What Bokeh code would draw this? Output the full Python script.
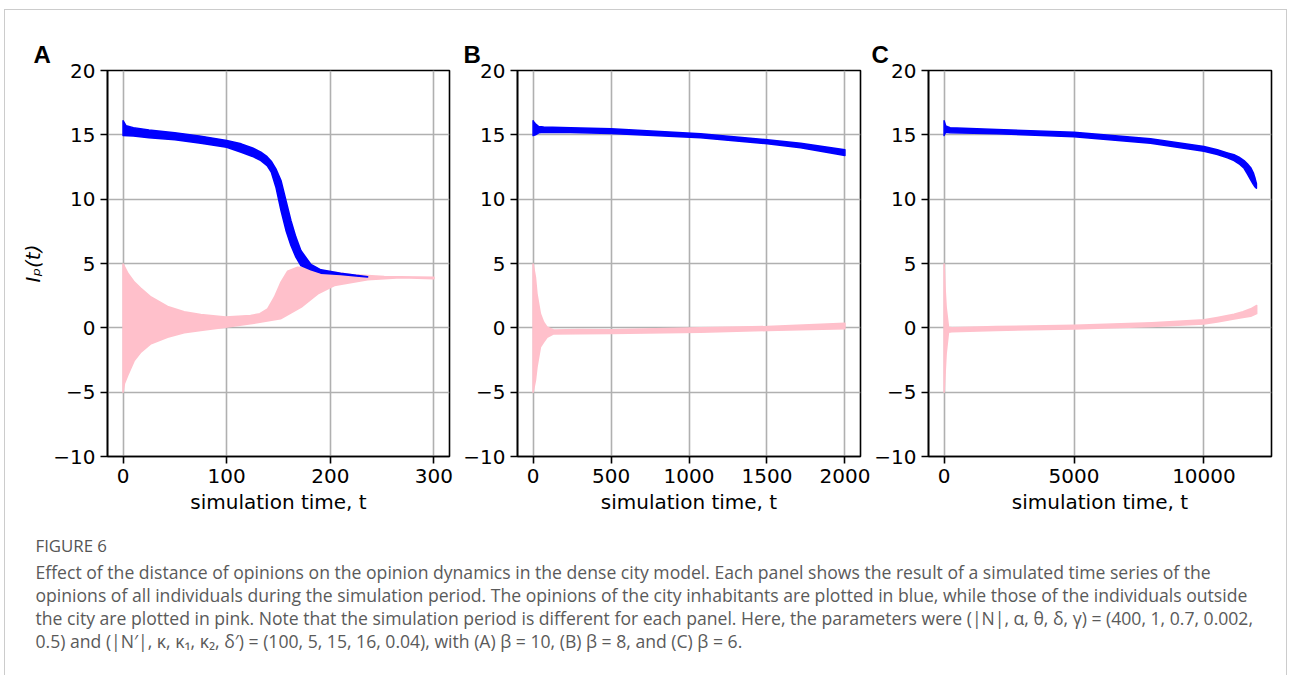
from bokeh.plotting import figure
from bokeh.layouts import row, column
from bokeh.models import Range1d, FixedTicker
from bokeh.core.properties import value
from bokeh.embed import file_html
from bokeh.resources import INLINE

BLUE = "#0000ff"
PINK = "#ffc0cb"
GRID = "#b0b0b0"

# ---------------- data ----------------
y_ticks = [-10, -5, 0, 5, 10, 15, 20]
y_tick_labels = ["\u221210", "\u22125", "0", "5", "10", "15", "20"]

# Panel A (beta = 10)
a_x_ticks = [0, 100, 200, 300]
a_x_labels = ["0", "100", "200", "300"]
a_blue_hi_t = [0, 3, 10, 25, 50, 75, 100, 114, 125, 133, 139, 143, 147.5, 152.4, 157.2, 162, 166.8, 171.6, 181.3, 190.9, 210, 225, 236]
a_blue_hi = [16.1, 15.7, 15.56, 15.38, 15.16, 14.9, 14.56, 14.30, 13.98, 13.65, 13.3, 12.95, 12.36, 11.45, 9.9, 8.34, 7.05, 6.01, 4.92, 4.51, 4.25, 4.08, 3.98]
a_blue_lo_t = [0, 10, 25, 50, 75, 100, 114, 125, 133, 139, 143, 147.5, 152.4, 157.2, 162, 166.8, 171.6, 181.3, 190.9, 210, 225, 236]
a_blue_lo = [14.95, 14.9, 14.78, 14.61, 14.35, 14.04, 13.65, 13.32, 13.0, 12.6, 12.1, 10.93, 9.12, 7.57, 6.4, 5.49, 4.84, 4.51, 4.25, 4.15, 4.02, 3.95]
a_pink_hi_t = [0, 5, 11, 17, 27, 43, 59, 75, 99, 123, 132, 139.5, 146, 152.4, 158.8, 168.4, 178, 197, 220, 252, 300]
a_pink_hi = [4.97, 4.2, 3.55, 3.1, 2.4, 1.66, 1.25, 1.04, 0.85, 0.96, 1.1, 1.48, 2.38, 3.55, 4.40, 4.71, 4.66, 4.40, 4.15, 3.99, 3.94]
a_pink_lo_t = [0, 1.3, 4.5, 10.9, 17.3, 27, 43, 59, 75, 99, 123, 152, 172, 188, 204, 236, 268, 300]
a_pink_lo = [-5.0, -4.35, -3.7, -2.54, -1.89, -1.24, -0.73, -0.39, -0.21, 0.05, 0.31, 0.70, 1.61, 2.64, 3.29, 3.73, 3.89, 3.81]

# Panel B (beta = 8)
b_x_ticks = [0, 500, 1000, 1500, 2000]
b_x_labels = ["0", "500", "1000", "1500", "2000"]
b_blue_hi_t = [0, 5, 15, 36, 68, 240, 500, 1074, 1502, 1716, 2000]
b_blue_hi = [16.1, 16.0, 15.86, 15.65, 15.6, 15.55, 15.48, 15.08, 14.61, 14.35, 13.84]
b_blue_lo_t = [0, 15, 36, 68, 240, 500, 1074, 1502, 1716, 2000]
b_blue_lo = [14.95, 15.0, 15.16, 15.2, 15.18, 15.1, 14.77, 14.30, 13.99, 13.39]
b_pink_hi_t = [0, 15, 25, 47, 68, 90, 132, 300, 500, 1074, 1502, 2000]
b_pink_hi = [4.97, 3.94, 2.64, 1.09, 0.44, 0.05, -0.16, -0.12, -0.14, 0.0, 0.1, 0.36]
b_pink_lo_t = [0, 15, 25, 47, 68, 90, 132, 300, 500, 1074, 1502, 2000]
b_pink_lo = [-5.0, -4.1, -3.06, -1.5, -1.11, -0.73, -0.47, -0.46, -0.45, -0.34, -0.21, -0.08]

# Panel C (beta = 6)
c_x_ticks = [0, 5000, 10000]
c_x_labels = ["0", "5000", "10000"]
c_blue_hi_t = [0, 60, 230, 2032, 5000, 7944, 10000, 10517, 10903, 11157, 11350, 11543, 11671, 11800, 11900, 11970, 12020]
c_blue_hi = [16.1, 15.7, 15.55, 15.41, 15.2, 14.69, 14.09, 13.84, 13.6, 13.45, 13.26, 13.0, 12.75, 12.45, 12.05, 11.6, 11.2]
c_blue_lo_t = [0, 60, 230, 2032, 5000, 7944, 10000, 10517, 10903, 11157, 11350, 11543, 11671, 11800, 11900, 11970, 12020]
c_blue_lo = [14.95, 15.2, 15.16, 15.08, 14.85, 14.35, 13.73, 13.47, 13.21, 13.0, 12.75, 12.4, 11.97, 11.5, 11.15, 10.95, 10.85]
c_pink_hi_t = [0, 40, 80, 170, 300, 2000, 5000, 8000, 10000, 10517, 11157, 11500, 11800, 12030]
c_pink_hi = [4.97, 3.0, 1.6, 0.05, 0.0, 0.1, 0.2, 0.4, 0.62, 0.8, 1.05, 1.25, 1.48, 1.74]
c_pink_lo_t = [0, 40, 80, 170, 300, 2000, 5000, 8000, 10000, 10517, 11157, 11500, 11800, 12030]
c_pink_lo = [-5.0, -3.5, -2.0, -0.34, -0.3, -0.2, -0.1, 0.1, 0.3, 0.45, 0.68, 0.8, 0.9, 1.1]

caption_title = "FIGURE 6"
caption_lines = [
    "Effect of the distance of opinions on the opinion dynamics in the dense city model. Each panel shows the result of a simulated time series of the",
    "opinions of all individuals during the simulation period. The opinions of the city inhabitants are plotted in blue, while those of the individuals outside",
    "the city are plotted in pink. Note that the simulation period is different for each panel. Here, the parameters were (|N|, \u03b1, \u03b8, \u03b4, \u03b3) = (400, 1, 0.7, 0.002,",
    "0.5) and (|N\u2032|, \u03ba, \u03ba\u2081, \u03ba\u2082, \u03b4\u2032) = (100, 5, 15, 16, 0.04), with (A) \u03b2 = 10, (B) \u03b2 = 8, and (C) \u03b2 = 6.",
]

FONT = "DejaVu Sans"
CAP_FONT = "Open Sans"


def band(p, t_hi, hi, t_lo, lo, color):
    xs = list(t_hi) + list(reversed(t_lo))
    ys = list(hi) + list(reversed(lo))
    p.patch(xs, ys, fill_color=color, line_color=color, line_width=1.5, line_join="round")


def make_panel(letter, xr, xticks, xlabels, width, mbl, mbr, title_offset, ylabel=None):
    p = figure(width=width, height=520, x_range=Range1d(*xr), y_range=Range1d(-10, 20),
               output_backend="svg", toolbar_location=None, title=letter,
               min_border_left=mbl, min_border_right=mbr, min_border_top=60, min_border_bottom=74)
    p.outline_line_color = "black"
    p.outline_line_width = 1.6
    p.title.align = "left"
    p.title.offset = title_offset
    p.title.standoff = 6
    p.title.text_font = "Liberation Sans"
    p.title.text_font_size = "24px"
    p.title.text_font_style = "bold"
    p.title.text_color = "black"

    p.xaxis.ticker = FixedTicker(ticks=xticks)
    p.xaxis.major_label_overrides = dict(zip(xticks, xlabels))
    p.yaxis.ticker = FixedTicker(ticks=y_ticks)
    p.yaxis.major_label_overrides = dict(zip(y_ticks, y_tick_labels))
    for ax in (p.xaxis, p.yaxis):
        ax.major_label_text_font = FONT
        ax.major_label_text_font_size = "20px"
        ax.major_label_text_color = "black"
        ax.axis_line_color = "black"
        ax.axis_line_width = 1.6
        ax.major_tick_line_color = "black"
        ax.major_tick_line_width = 1.6
        ax.major_tick_out = 7
        ax.major_tick_in = 0
        ax.minor_tick_line_color = None
        ax.major_label_standoff = 5
        ax.axis_label_text_font = FONT
        ax.axis_label_text_font_size = "20px"
        ax.axis_label_text_font_style = "normal"
        ax.axis_label_text_color = "black"
    p.xaxis.axis_label = "simulation time, t"
    p.xaxis.axis_label_standoff = 4
    if ylabel:
        p.yaxis.axis_label = ylabel
        p.yaxis.axis_label_text_font_style = "italic"
        p.yaxis.axis_label_standoff = 5
    for g in (p.xgrid, p.ygrid):
        g.grid_line_color = GRID
        g.grid_line_width = 1.6
    return p


pA = make_panel("A", (-15, 315), a_x_ticks, a_x_labels, 455, 102, 11, -74, ylabel="I\u209a(t)")
band(pA, a_pink_hi_t, a_pink_hi, a_pink_lo_t, a_pink_lo, PINK)
band(pA, a_blue_hi_t, a_blue_hi, a_blue_lo_t, a_blue_lo, BLUE)

pB = make_panel("B", (-100, 2100), b_x_ticks, b_x_labels, 410, 57, 10, -54)
band(pB, b_pink_hi_t, b_pink_hi, b_pink_lo_t, b_pink_lo, PINK)
band(pB, b_blue_hi_t, b_blue_hi, b_blue_lo_t, b_blue_lo, BLUE)

pC = make_panel("C", (-600, 12600), c_x_ticks, c_x_labels, 416, 58, 15, -57)
band(pC, c_pink_hi_t, c_pink_hi, c_pink_lo_t, c_pink_lo, PINK)
band(pC, c_blue_hi_t, c_blue_hi, c_blue_lo_t, c_blue_lo, BLUE)

# caption area: data units equal page pixels
cap = figure(width=1281, height=145, x_range=Range1d(5, 1286), y_range=Range1d(675, 530),
             x_axis_type=None, y_axis_type=None, output_backend="svg", toolbar_location=None,
             min_border=0)
cap.outline_line_color = None
cap.xgrid.visible = False
cap.ygrid.visible = False
cap.text(x=[35], y=[545], text=[caption_title], text_font=value(CAP_FONT), text_font_size="16.8px",
         text_color="#555555", text_baseline="middle")
line_gap = 23
cap.text(x=[35] * len(caption_lines), y=[571 + line_gap * i for i in range(len(caption_lines))],
         text=caption_lines, text_font=value(CAP_FONT), text_font_size="17.6px",
         text_color="#5a5a5a", text_baseline="middle")

layout = column(row(pA, pB, pC), cap, margin=(9, 0, 0, 4),
                styles={"border": "1px solid #cccccc", "border-bottom": "none"})

open("out.html", "w").write(file_html(layout, INLINE))
